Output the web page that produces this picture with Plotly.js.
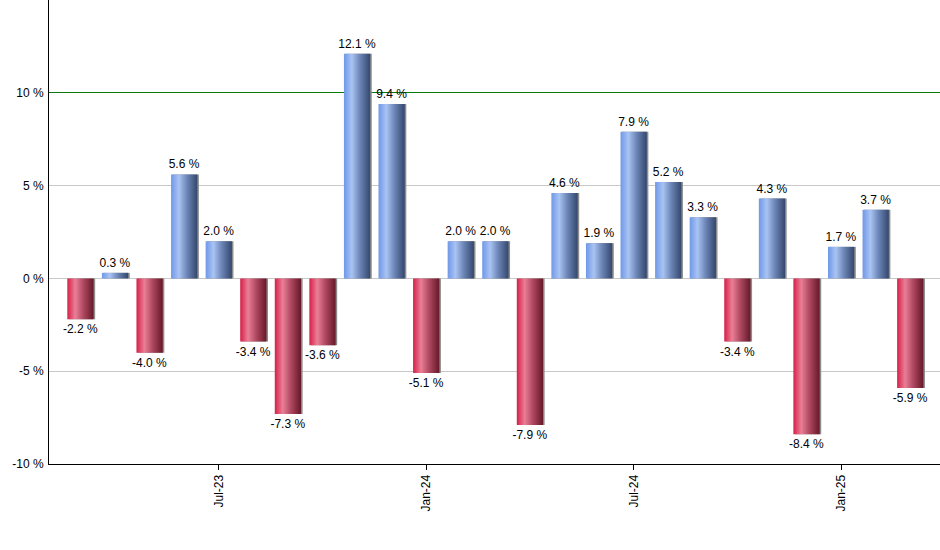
<!DOCTYPE html>
<html>
<head>
<meta charset="utf-8">
<script src="https://cdn.plot.ly/plotly-3.0.1.min.js"></script>
<style>
  html, body { margin: 0; padding: 0; background: #fff; }
  #chart { width: 940px; height: 550px; }
</style>
</head>
<body>
<div id="chart"></div>
<script>
// ---- data ----
const months = ['Mar-23','Apr-23','May-23','Jun-23','Jul-23','Aug-23','Sep-23','Oct-23','Nov-23','Dec-23',
                'Jan-24','Feb-24','Mar-24','Apr-24','May-24','Jun-24','Jul-24','Aug-24','Sep-24','Oct-24',
                'Nov-24','Dec-24','Jan-25','Feb-25','Mar-25'];
const returns = [-2.2, 0.3, -4.0, 5.6, 2.0, -3.4, -7.3, -3.6, 12.1, 9.4,
                 -5.1, 2.0, 2.0, -7.9, 4.6, 1.9, 7.9, 5.2, 3.3, -3.4,
                 4.3, -8.4, 1.7, 3.7, -5.9];
const xTickVals = ['Jul-23','Jan-24','Jul-24','Jan-25'];
const yTickVals = [-10, -5, 0, 5, 10];
const yTickText = ['-10 %', '-5 %', '0 %', '5 %', '10 %'];
const yGridVals = [-5, 0, 5, 15];
const targetLine = 10;

const FONT = 'Liberation Sans, Arial, sans-serif';
const barW = 0.76;

const shadow = {
  type: 'bar', x: months, y: returns,
  width: barW, offset: -barW / 2 + 0.045,
  marker: { color: '#8c8c8c', line: { width: 0 } },
  hoverinfo: 'skip', showlegend: false
};
const main = {
  type: 'bar', x: months, y: returns,
  width: barW, offset: -barW / 2,
  marker: { color: returns.map(v => v >= 0 ? '#7c9fe0' : '#c8304f'), line: { width: 0 } },
  texttemplate: '%{y:.1f} %',
  textposition: 'outside',
  constraintext: 'none',
  textfont: { family: FONT, size: 12, color: '#000' },
  cliponaxis: false,
  showlegend: false
};

const layout = {
  width: 940, height: 550,
  margin: { l: 49, r: 0, t: 0, b: 86 },
  paper_bgcolor: '#fff', plot_bgcolor: '#fff',
  barmode: 'overlay',
  showlegend: false,
  font: { family: FONT, size: 12, color: '#000' },
  xaxis: {
    type: 'category',
    categoryorder: 'array', categoryarray: months,
    range: [-0.91, 24.86],
    tickmode: 'array', tickvals: xTickVals, ticktext: xTickVals,
    tickangle: -90,
    ticks: 'outside', ticklen: 5, tickcolor: '#000', tickwidth: 1,
    showgrid: false, zeroline: false,
    showline: true, linecolor: '#000', linewidth: 1,
    tickfont: { family: FONT, size: 12, color: '#000' },
    fixedrange: true
  },
  yaxis: {
    range: [-10, 15],
    tickmode: 'array', tickvals: yTickVals, ticktext: yTickText,
    ticks: '', showgrid: false,
    minor: { tickmode: 'array', tickvals: yGridVals, showgrid: true, gridcolor: '#c8c8c8', gridwidth: 1, ticks: '' },
    zeroline: true, zerolinecolor: '#c8c8c8', zerolinewidth: 1,
    showline: true, linecolor: '#000', linewidth: 1,
    tickfont: { family: FONT, size: 12, color: '#000' },
    ticklabelstandoff: 2,
    fixedrange: true
  },
  shapes: [{
    type: 'line', xref: 'paper', yref: 'y', x0: 0, x1: 1, y0: targetLine, y1: targetLine,
    line: { color: '#0a780a', width: 1 }, layer: 'below'
  }]
};

const gd = document.getElementById('chart');
Plotly.newPlot(gd, [shadow, main], layout, { displayModeBar: false, staticPlot: true }).then(() => {
  const svg = gd.querySelector('svg.main-svg');
  const ns = 'http://www.w3.org/2000/svg';
  let defs = svg.querySelector('defs');
  if (!defs) { defs = document.createElementNS(ns, 'defs'); svg.insertBefore(defs, svg.firstChild); }
  function grad(id, stops) {
    const g = document.createElementNS(ns, 'linearGradient');
    g.setAttribute('id', id);
    g.setAttribute('x1', '0'); g.setAttribute('y1', '0');
    g.setAttribute('x2', '1'); g.setAttribute('y2', '0');
    stops.forEach(([o, c]) => {
      const s = document.createElementNS(ns, 'stop');
      s.setAttribute('offset', o); s.setAttribute('stop-color', c);
      g.appendChild(s);
    });
    defs.appendChild(g);
  }
  grad('gPos', [[0, '#6f98e8'], [0.3, '#a9c3f3'], [0.6, '#6d87b8'], [1, '#34476d']]);
  grad('gNeg', [[0, '#d61f48'], [0.3, '#ea7f96'], [0.6, '#b04a62'], [1, '#661828']]);
  const traces = gd.querySelectorAll('g.barlayer g.trace.bars');
  const mainTrace = traces[traces.length - 1];
  mainTrace.querySelectorAll('g.point').forEach((pt, i) => {
    const p = pt.querySelector('path');
    if (p) p.style.fill = returns[i] >= 0 ? 'url(#gPos)' : 'url(#gNeg)';
  });
  gd.querySelectorAll('.shapelayer path').forEach(p => {
    p.style.shapeRendering = 'crispEdges';
  });
});
</script>
</body>
</html>
